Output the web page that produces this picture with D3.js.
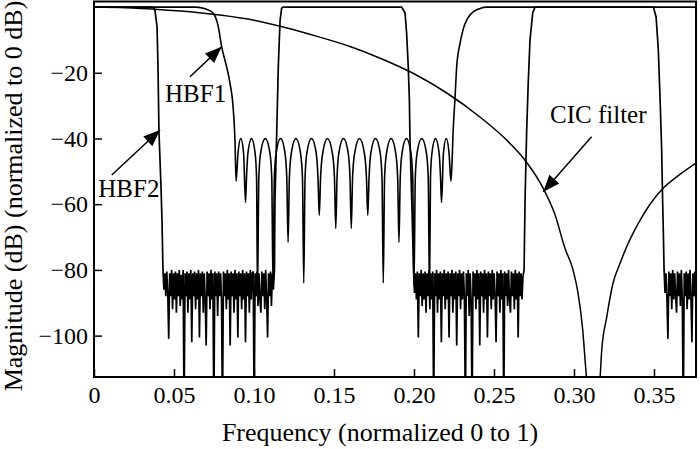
<!DOCTYPE html>
<html><head><meta charset="utf-8">
<script src="https://cdn.jsdelivr.net/npm/d3@7"></script>
<style>
html,body{margin:0;padding:0;background:#fff;}
svg{display:block;font-family:"Liberation Serif","Times New Roman",serif;}
</style></head>
<body><svg id="chart" width="700" height="449"></svg>
<script>
// ---- axis ticks ----
const freqTicks = [0, 0.05, 0.10, 0.15, 0.20, 0.25, 0.30, 0.35];
const freqTickLabels = ["0", "0.05", "0.10", "0.15", "0.20", "0.25", "0.30", "0.35"];
const dbTicks = [-20, -40, -60, -80, -100];
const dbTickLabels = ["\u221220", "\u221240", "\u221260", "\u221280", "\u2212100"];

// ---- CIC filter response [freq, dB] ----
const cicFilter = [[0,0],[0.02,-0.2],[0.04,-0.7],[0.06,-1.4],[0.08,-2.5],[0.1,-4.0],[0.12,-6.3],[0.14,-9.0],
  [0.16,-12.0],[0.18,-15.8],[0.2,-20.3],[0.22,-26.0],[0.24,-33.0],[0.26,-41.5],[0.27,-47.0],
  [0.2808,-55.2],[0.288,-63],[0.2944,-73.5],[0.2994,-80],[0.3025,-87],[0.3054,-98],[0.3075,-111],[0.3095,-122],
  [0.3116,-140],[0.314,-124],[0.3163,-113],[0.3173,-104.6],[0.3204,-94.5],[0.3244,-84],[0.3288,-78],[0.332,-74],
  [0.34,-66],[0.3475,-60],[0.356,-55],[0.366,-51],[0.37625,-47.5]];

// ---- HBF1 response [freq, dB] ----
const hbf1 = [[0,0],[0.064,0],[0.0694,-0.5],[0.0744,-1.8],[0.0777,-6],[0.0798,-12.1],[0.0829,-18.2],[0.085,-23.2],
  [0.0871,-31.4],[0.0881,-40.5],[0.0888,-53],
  [0.09,-44.5],[0.09175,-40],[0.0935,-44.5],[0.0947,-59.5],
  [0.0953,-52],[0.0962,-44.5],[0.09845,-40],[0.1007,-44.5],[0.1016,-52],[0.1022,-87],
  [0.103,-52],[0.1041,-44.5],[0.10705,-40],[0.11,-44.5],[0.1111,-52],[0.1119,-85],
  [0.1127,-52],[0.1138,-44.5],[0.1166,-40],[0.1194,-44.5],[0.1205,-52],[0.1213,-71.6],
  [0.1221,-52],[0.1233,-44.5],[0.1262,-40],[0.1291,-44.5],[0.1303,-52],[0.1311,-84],
  [0.1319,-52],[0.133,-44.5],[0.13595,-40],[0.1389,-44.5],[0.14,-52],[0.1408,-63.4],
  [0.1416,-52],[0.1429,-44.5],[0.14595,-40],[0.149,-44.5],[0.1503,-52],[0.1511,-67.4],
  [0.1519,-52],[0.153,-44.5],[0.15595,-40],[0.1589,-44.5],[0.16,-52],[0.1608,-67.4],
  [0.1616,-52],[0.1629,-44.5],[0.16595,-40],[0.169,-44.5],[0.1703,-52],[0.1711,-63.4],
  [0.1719,-52],[0.173,-44.5],[0.17595,-40],[0.1789,-44.5],[0.18,-52],[0.1808,-84],
  [0.1816,-52],[0.1828,-44.5],[0.1857,-40],[0.1886,-44.5],[0.1898,-52],[0.1906,-71.6],
  [0.1914,-52],[0.1925,-44.5],[0.1953,-40],[0.1981,-44.5],[0.1992,-52],[0.2,-85],
  [0.2008,-52],[0.2019,-44.5],[0.20485,-40],[0.2078,-44.5],[0.2089,-52],[0.2097,-87],
  [0.2103,-52],[0.2112,-44.5],[0.21345,-40],[0.2157,-44.5],[0.2166,-52],[0.2172,-59.5],
  [0.2184,-44.5],[0.22015,-40],[0.2219,-44.5],[0.2231,-53],
  [0.2238,-47],[0.2244,-38.5],[0.2256,-28],[0.2267,-18],[0.2288,-11],[0.2306,-7],[0.235,-2.4],[0.2413,-0.4],
  [0.2454,0],[0.37625,0]];

// ---- HBF2 response: pass bands / edges [freq, dB] ----
const hbf2Band1 = [[0,0],[0.0369,0],[0.0381,-1],[0.0394,-6],[0.04,-18],[0.0406,-38],[0.0419,-55],[0.0425,-65]];
const hbf2Band2 = [[0.1128,-80],[0.1131,-59],[0.1142,-38],[0.1152,-18],[0.1163,-4],[0.1173,-0.3],[0.1183,0],
  [0.1923,0],[0.1944,-1.8],[0.1954,-8],[0.1964,-18],[0.1971,-28],[0.1975,-40.5],[0.1986,-59],[0.1992,-70]];
const hbf2Band3 = [[0.2688,-80],[0.2694,-59],[0.2704,-38],[0.2714,-23],[0.2725,-10],[0.2742,-1.8],[0.2756,0],
  [0.3496,0],[0.3513,-3],[0.3527,-13],[0.3538,-28],[0.3548,-43.6],[0.3554,-59],[0.3559,-70]];

// ---- HBF2 stop band samples (dB) on a uniform frequency grid ----
const noiseStep = 0.0006;
const stop1Start = 0.0431;
const stop1 = [-80,-86,-81,-88,-80.5,-87,-101,-81,-88,-80,-92,-81,-89,-80.5,-93,-81,-88,-80,-91,-81.5,
  -89,-80,-125,-81,-88,-80.5,-93,-81,-89,-80,-102,-81,-88,-80.5,-92,-81,-89,-80,-100.6,-81,
  -88,-80.5,-93,-81,-89,-103,-80.5,-88,-81,-92,-80,-89,-81,-125,-80.5,-88,-81,-94,-80.5,-88,
  -81,-89,-125,-80.5,-88,-81,-92,-80,-89,-81,-103,-80.5,-88,-81,-93,-80,-89,-81,-100.6,-80.5,
  -88,-81,-92,-80,-89,-81,-102,-80.5,-88,-81,-93,-80,-89,-81,-80.5,-125,-81,-88,-80.5,-91,
  -81,-89,-93,-80.5,-88,-81,-92,-80,-89,-100.6,-81,-88,-80.5,-91,-81,-86];
const stop2Start = 0.1997;
const stop2 = [-80,-87,-81,-89,-80.5,-100.6,-81,-88,-80,-91,-81,-89,-80.5,-93,-81,-88,-80,-92,-81,-89,
  -80.5,-125,-81,-88,-80,-93,-81,-89,-80.5,-102,-81,-88,-80,-92,-81,-89,-80.5,-100.6,-81,-88,
  -80,-93,-81,-89,-80.5,-103,-81,-88,-80,-92,-81,-89,-80.5,-88,-125,-81,-88,-80,-94,-81,
  -89,-125,-80.5,-88,-81,-92,-80,-89,-81,-103,-80.5,-88,-81,-93,-80,-89,-81,-100.6,-80.5,-88,
  -81,-92,-80,-89,-81,-88,-102,-80.5,-88,-81,-93,-80,-89,-81,-125,-80.5,-88,-81,-91,-80,
  -89,-93,-80.5,-88,-81,-92,-80,-89,-81,-100.6,-80.5,-88,-81,-89,-82];
const stop3Start = 0.3563;
const stop3 = [-80,-87,-81,-89,-101,-80.5,-88,-81,-92,-80,-89,-81,-88,-93,-80.5,-88,-81,-91,-80,-89,
  -125,-81,-88,-80.5,-92,-81,-89,-80,-88,-102,-81,-88,-80.5,-89];

// ---- annotations (data coordinates) ----
const annotations = [
  {label: "HBF1", tf: 0.0444, tdb: -28.9, ff: 0.060, fdb: -21.2, toF: 0.0798, toDb: -12.1},
  {label: "HBF2", tf: 0.0027, tdb: -57.8, ff: 0.0111, fdb: -51.1, toF: 0.04125, toDb: -37.4},
  {label: "CIC filter", tf: 0.285, tdb: -35.4, ff: 0.311, fdb: -39.5, toF: 0.2808, toDb: -56.2}
];

// ================= drawing =================
const svg = d3.select("#chart");
const plotL = 94, plotR = 696, plotT = 1.5, plotB = 377;
const x = d3.scaleLinear().domain([0, 0.37625]).range([plotL, plotR]);
const y = d3.scaleLinear().domain([-112.6, 1.7]).range([plotB, plotT]);

const defs = svg.append("defs");
defs.append("clipPath").attr("id", "plotclip")
  .append("rect").attr("x", plotL).attr("y", plotT).attr("width", plotR - plotL).attr("height", plotB - plotT);
defs.append("marker").attr("id", "arrowhead")
  .attr("markerUnits", "userSpaceOnUse").attr("markerWidth", 20).attr("markerHeight", 20)
  .attr("viewBox", "-16 -8 18 16").attr("refX", 0).attr("refY", 0).attr("orient", "auto")
  .append("path").attr("d", "M0,0 L-15,-6 L-15,6 Z").attr("fill", "#000");

function grid(start, values) {
  return values.map((v, i) => [start + i * noiseStep, v]);
}
const hbf2 = [].concat(hbf2Band1, grid(stop1Start, stop1), hbf2Band2, grid(stop2Start, stop2), hbf2Band3, grid(stop3Start, stop3));

const plot = svg.append("g").attr("clip-path", "url(#plotclip)");
const lineLin = d3.line().x(d => x(d[0])).y(d => y(d[1]));
const lineSmooth = d3.line().x(d => x(d[0])).y(d => y(d[1])).curve(d3.curveMonotoneX);

plot.append("path").datum(hbf2).attr("d", lineLin)
  .attr("fill", "none").attr("stroke", "#000").attr("stroke-width", 1.7).attr("stroke-linejoin", "miter").attr("stroke-miterlimit", 2);
plot.append("path").datum(hbf1).attr("d", lineSmooth)
  .attr("fill", "none").attr("stroke", "#000").attr("stroke-width", 1.6);
plot.append("path").datum(cicFilter).attr("d", lineSmooth)
  .attr("fill", "none").attr("stroke", "#000").attr("stroke-width", 1.5);

// axes
const xAxis = d3.axisBottom(x).tickValues(freqTicks).tickSize(-8).tickPadding(9)
  .tickFormat((d, i) => freqTickLabels[i]);
const gx = svg.append("g").attr("transform", `translate(0,${plotB})`).call(xAxis);
gx.select(".domain").remove();
gx.selectAll(".tick line").attr("stroke", "#000").attr("stroke-width", 1.5);
gx.selectAll(".tick text").attr("font-size", 24).attr("fill", "#000").attr("font-family", "Liberation Serif, Times New Roman, serif");

const yAxis = d3.axisLeft(y).tickValues(dbTicks).tickSize(-8).tickPadding(6)
  .tickFormat((d, i) => dbTickLabels[i]);
const gy = svg.append("g").attr("transform", `translate(${plotL},0)`).call(yAxis);
gy.select(".domain").remove();
gy.selectAll(".tick line").attr("stroke", "#000").attr("stroke-width", 1.5);
gy.selectAll(".tick text").attr("font-size", 24).attr("fill", "#000").attr("font-family", "Liberation Serif, Times New Roman, serif");

// frame
svg.append("rect").attr("x", plotL).attr("y", plotT).attr("width", plotR - plotL).attr("height", plotB - plotT)
  .attr("fill", "none").attr("stroke", "#000").attr("stroke-width", 2);

// axis titles
svg.append("text").attr("x", 380).attr("y", 441).attr("text-anchor", "middle")
  .attr("font-size", 26).attr("fill", "#000").text("Frequency (normalized 0 to 1)");
svg.append("text").attr("transform", "translate(22,196) rotate(-90)").attr("text-anchor", "middle")
  .attr("font-size", 26).attr("fill", "#000").text("Magnitude (dB) (normalized to 0 dB)");

// annotations
const ann = svg.append("g");
annotations.forEach(a => {
  ann.append("line").attr("x1", x(a.ff)).attr("y1", y(a.fdb)).attr("x2", x(a.toF)).attr("y2", y(a.toDb))
    .attr("stroke", "#000").attr("stroke-width", 1.5).attr("marker-end", "url(#arrowhead)");
  ann.append("text").attr("x", x(a.tf)).attr("y", y(a.tdb)).attr("font-size", 25).attr("fill", "#000").text(a.label);
});
</script>
</body></html>
